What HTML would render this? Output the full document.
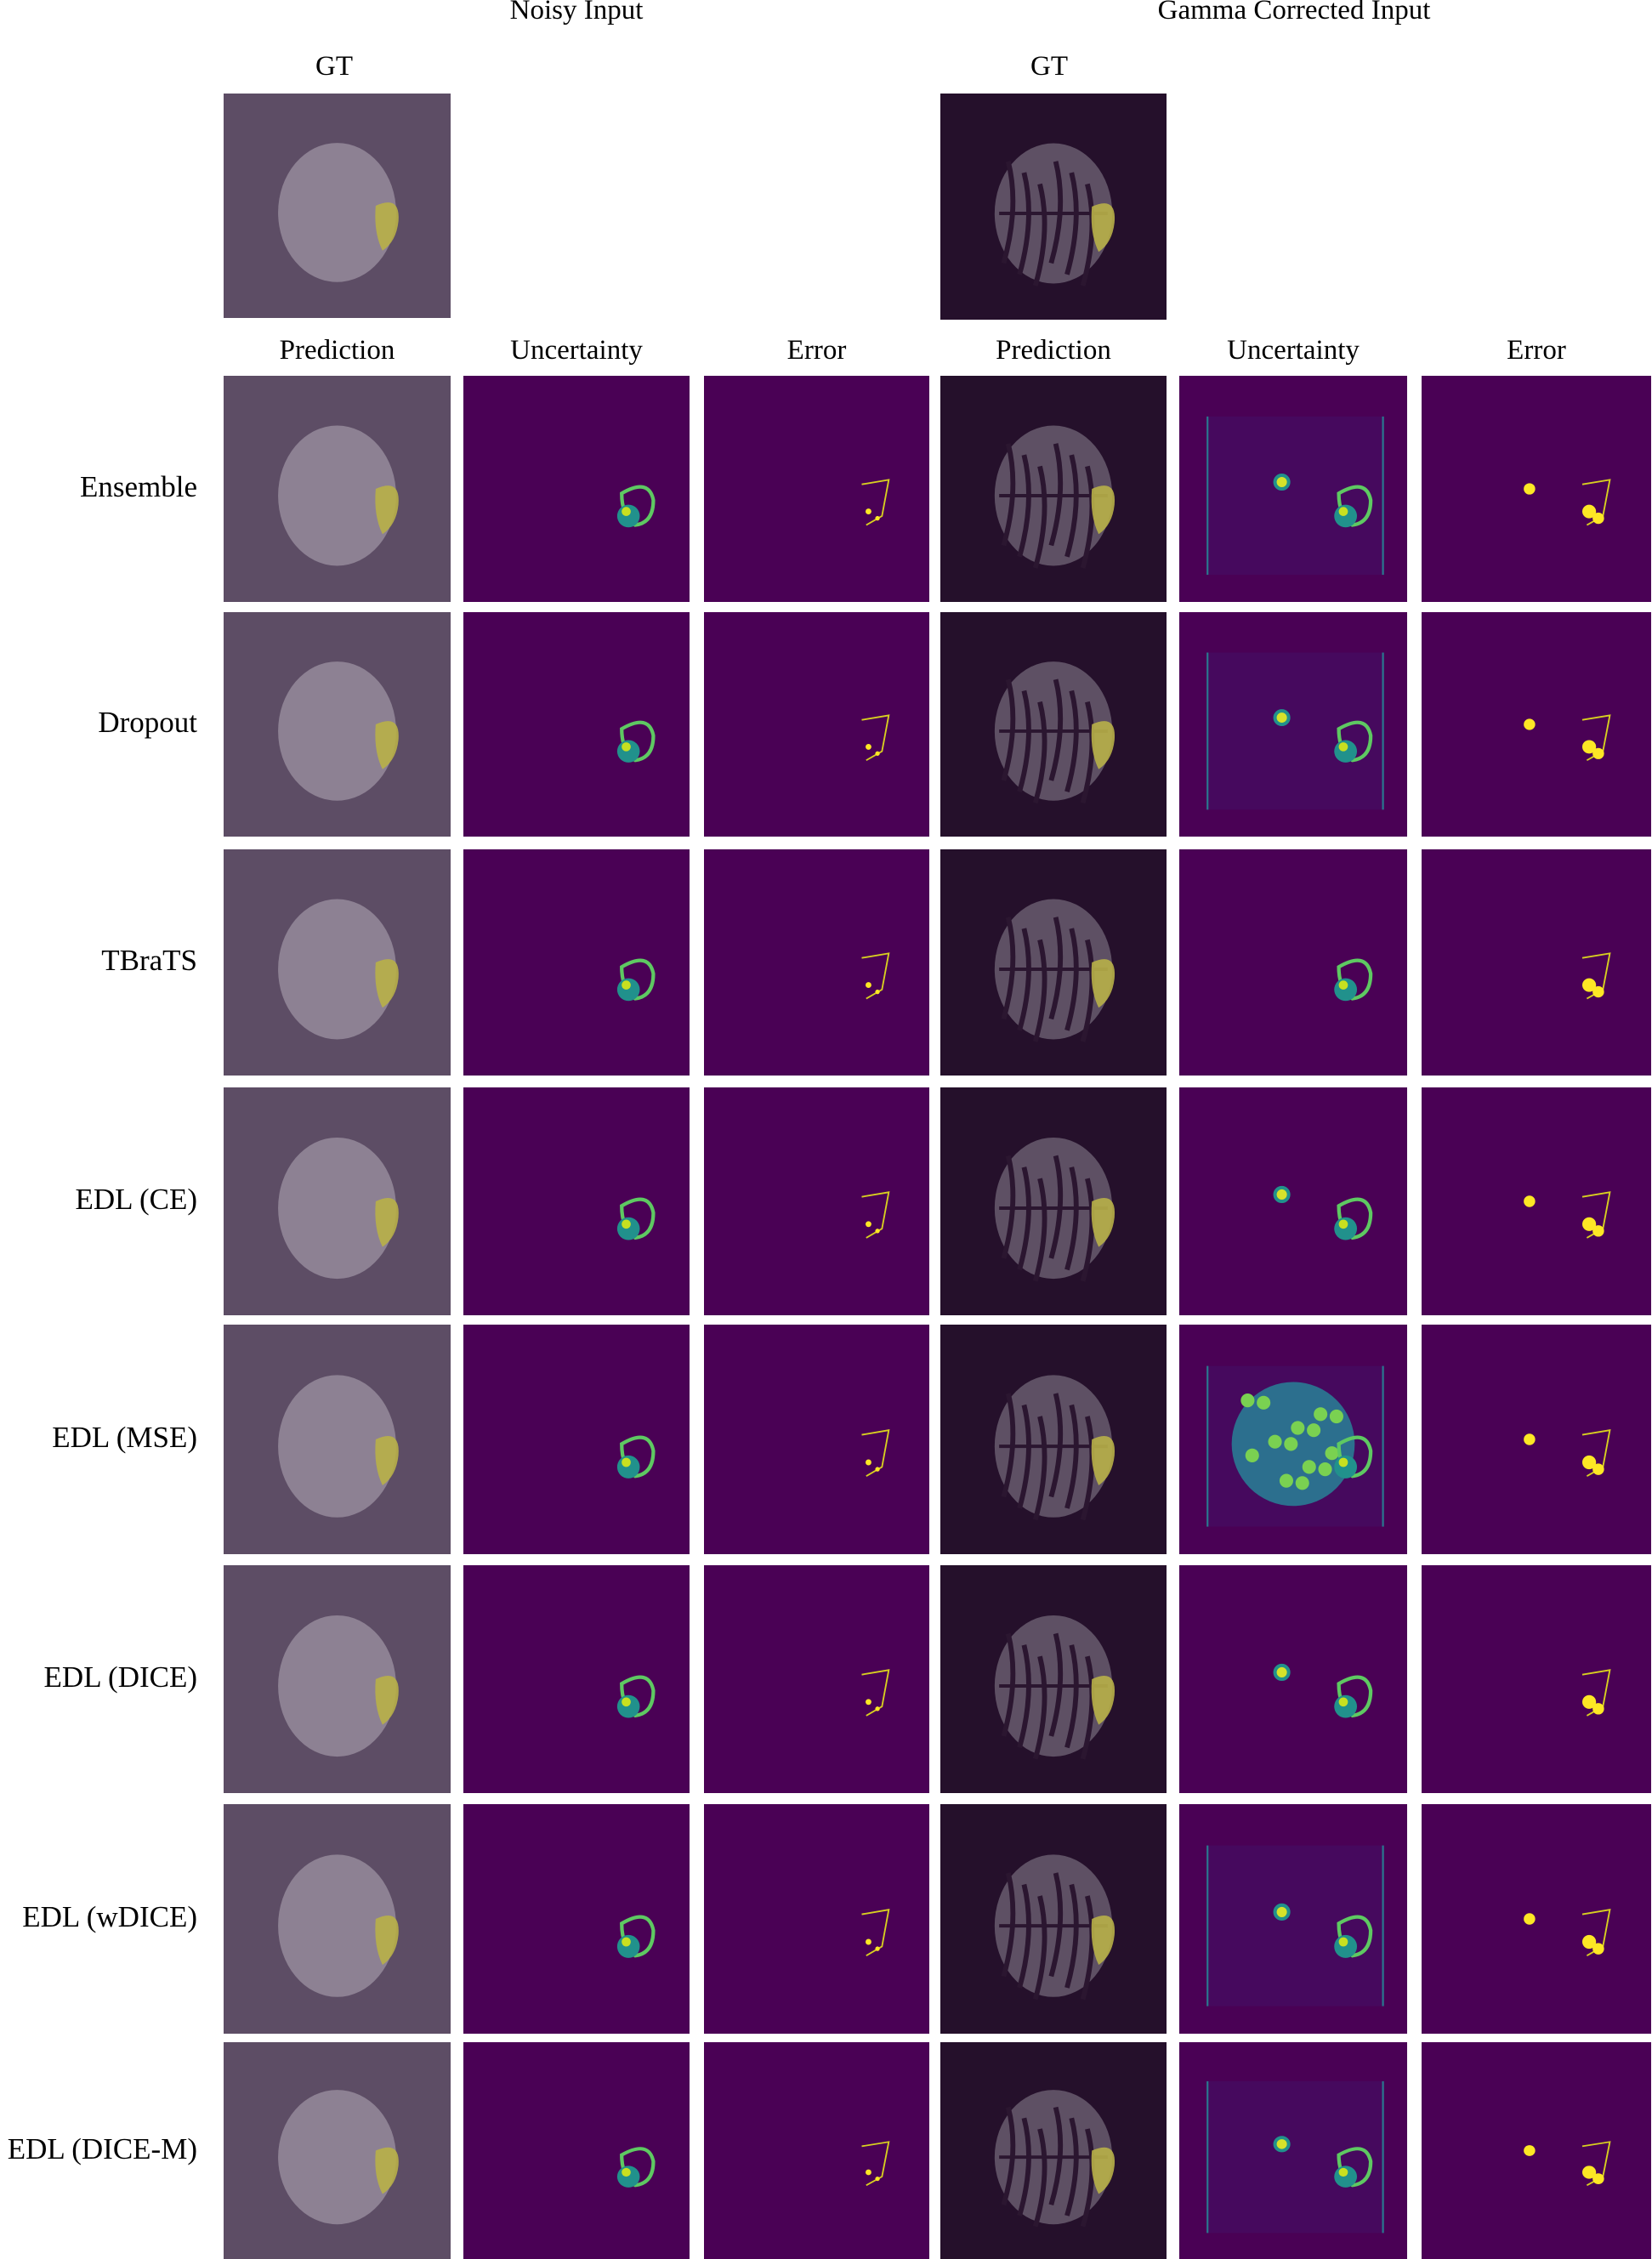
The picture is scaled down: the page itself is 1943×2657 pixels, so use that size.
<!DOCTYPE html>
<html><head><meta charset="utf-8">
<style>
body{margin:0;width:1943px;height:2657px;background:#fff;position:relative;overflow:hidden;font-family:"Liberation Serif",serif;color:#000}
.t{position:absolute;font-size:33px;white-space:nowrap;transform:translateX(-50%)}
.r{position:absolute;font-size:35px;white-space:nowrap;text-align:right;width:230px;left:2px}
svg.p{position:absolute}
</style></head><body>
<div class="t" style="left:678px;top:-6px">Noisy Input</div>
<div class="t" style="left:1522px;top:-6px">Gamma Corrected Input</div>
<div class="t" style="left:393px;top:60px">GT</div>
<div class="t" style="left:1234px;top:60px">GT</div>
<div id="root"></div>
<script>
const colNames=['Prediction','Uncertainty','Error','Prediction','Uncertainty','Error'];
const rowNames=['Ensemble','Dropout','TBraTS','EDL (CE)','EDL (MSE)','EDL (DICE)','EDL (wDICE)','EDL (DICE-M)'];
const colX=[263,545,828,1106,1387,1672];
const colW=[267,266,265,266,268,270];
const rowY=[442,720,999,1279,1558,1841,2122,2402];
const rowH=[266,264,266,268,270,268,270,255];
const gammaLines=[1,1,0,0,1,0,1,1];
const root=document.body;
const NS='http://www.w3.org/2000/svg';
function mk(tag,a){const e=document.createElementNS(NS,tag);for(const k in a)e.setAttribute(k,a[k]);return e;}
function brain(s,gamma){
  s.appendChild(mk('rect',{x:0,y:0,width:100,height:100,fill:gamma?'#25102b':'#5d4d65'}));
  s.appendChild(mk('ellipse',{cx:50,cy:53,rx:26,ry:31,fill:gamma?'#5e5064':'#8d8193'}));
  if(gamma){for(let i=0;i<6;i++)s.appendChild(mk('path',{d:`M${30+i*7} ${30+i%3*5} q5 20 -2 45`,stroke:'#2b1630','stroke-width':2.2,fill:'none'}));
   s.appendChild(mk('path',{d:'M26 53 H74',stroke:'#2b1630','stroke-width':1.5}));}
  s.appendChild(mk('path',{d:'M67 50 Q78 45 77 57 Q76 66 70 70 Q66 62 67 50Z',fill:'#b8b048','opacity':0.9}));
}
function unc(s,gamma,r){
  s.appendChild(mk('rect',{x:0,y:0,width:100,height:100,fill:'#4a0155'}));
  if(gamma&&gammaLines[r]){s.appendChild(mk('rect',{x:12,y:18,width:78,height:70,fill:'#46095e'}));
   s.appendChild(mk('rect',{x:12,y:18,width:0.8,height:70,fill:'#2a788e'}));s.appendChild(mk('rect',{x:89,y:18,width:0.8,height:70,fill:'#2a788e'}));}
  if(gamma&&r===4){s.appendChild(mk('ellipse',{cx:50,cy:52,rx:27,ry:27,fill:'#2c6f8e'}));
   for(let i=0;i<14;i++)s.appendChild(mk('circle',{cx:30+(i*37)%42,cy:33+(i*23)%40,r:3,fill:'#7ad151'}));}
  if(gamma&&r!==4&&r!==2){s.appendChild(mk('circle',{cx:45,cy:47,r:3,fill:'#d6e22b',stroke:'#21918c','stroke-width':1.5}));}
  s.appendChild(mk('path',{d:'M70 52 Q82 45 84 55 Q84 65 76 66 Q70 62 70 52Z',fill:'none',stroke:'#5ec962','stroke-width':1.6}));
  s.appendChild(mk('ellipse',{cx:73,cy:62,rx:5,ry:5,fill:'#21918c'}));
  s.appendChild(mk('circle',{cx:72,cy:60,r:2,fill:'#c8e020'}));
}
function err(s,gamma,r){
  s.appendChild(mk('rect',{x:0,y:0,width:100,height:100,fill:'#4a0155'}));
  s.appendChild(mk('path',{d:'M70 48 L82 46 L79 62 L72 66',fill:'none',stroke:'#d8d020','stroke-width':0.7}));
  s.appendChild(mk('circle',{cx:73,cy:60,r:gamma?3:1.3,fill:'#fde725'}));
  s.appendChild(mk('circle',{cx:77,cy:63,r:gamma?2.5:1,fill:'#fde725'}));
  if(gamma&&r!==2&&r!==5)s.appendChild(mk('circle',{cx:47,cy:50,r:2.5,fill:'#fde725'}));
}
function panel(x,y,w,h,name,fn){
  const s=mk('svg',{class:'p',viewBox:'0 0 100 100',preserveAspectRatio:'none',width:w,height:h});
  s.style.left=x+'px';s.style.top=y+'px';
  
  
  fn(s);root.appendChild(s);
}
panel(263,110,267,264,'gt-noisy-image',s=>brain(s,false));
panel(1106,110,266,266,'gt-gamma-image',s=>brain(s,true));
colNames.forEach((c,i)=>{const d=document.createElement('div');d.className='t';d.textContent=c;
  d.style.left=(colX[i]+colW[i]/2)+'px';d.style.top='394px';
  
  
  root.appendChild(d);});
rowNames.forEach((n,r)=>{
  const d=document.createElement('div');d.className='r';d.textContent=n;d.style.top=(rowY[r]+rowH[r]/2-22)+'px';
  
  
  root.appendChild(d);
  for(let c=0;c<6;c++){const g=c>=3,k=c%3;
    panel(colX[c],rowY[r],colW[c],rowH[r],'panel-r'+r+'-c'+c,s=>{if(k===0)brain(s,g);else if(k===1)unc(s,g,r);else err(s,g,r);});}
});
</script>
</body></html>
